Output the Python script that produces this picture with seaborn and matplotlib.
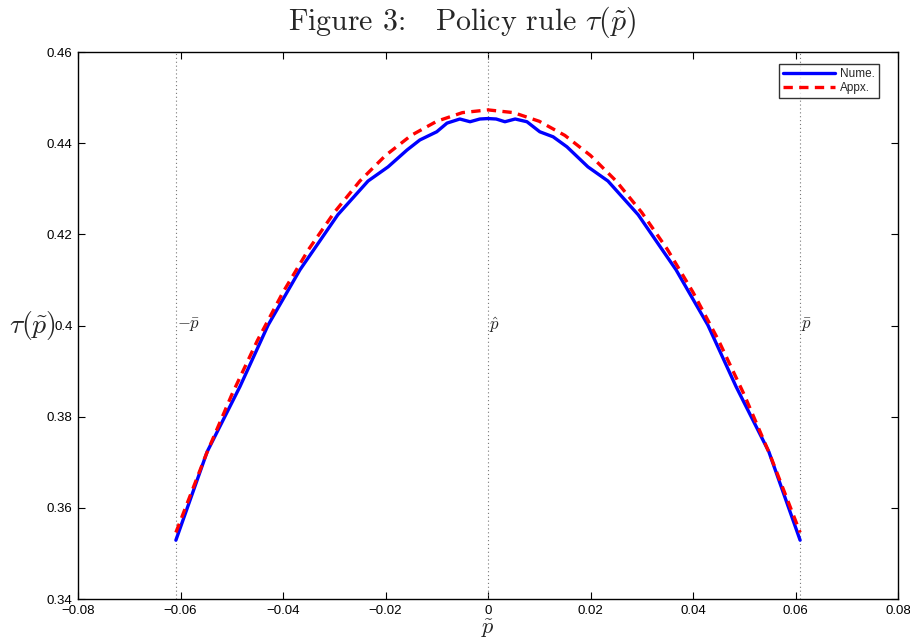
import matplotlib
matplotlib.use("Agg")
import matplotlib.pyplot as plt
import seaborn as sns
import numpy as np

# ---- data ----
p_num = [-0.0609, -0.0548, -0.0484, -0.0429, -0.0367, -0.0293, -0.0234, -0.0195,
         -0.0158, -0.0133, -0.0100, -0.0080, -0.0055, -0.0035, -0.0016, 0.0000,
         0.0016, 0.0033, 0.0053, 0.0076, 0.0101, 0.0127, 0.0154, 0.0195,
         0.0234, 0.0293, 0.0367, 0.0429, 0.0484, 0.0548, 0.0609]
tau_num = [0.3529, 0.3723, 0.3866, 0.4001, 0.4122, 0.4243, 0.4317, 0.4348,
           0.4385, 0.4407, 0.4425, 0.4444, 0.4453, 0.4447, 0.4453, 0.4454,
           0.4453, 0.4447, 0.4453, 0.4447, 0.4425, 0.4414, 0.4392, 0.4348,
           0.4317, 0.4243, 0.4122, 0.4001, 0.3866, 0.3723, 0.3529]

p_apx = [-0.0609, -0.055, -0.050, -0.045, -0.040, -0.035, -0.030, -0.025, -0.020,
         -0.015, -0.010, -0.005, 0.000, 0.005, 0.010, 0.015, 0.020, 0.025, 0.030,
         0.035, 0.040, 0.045, 0.050, 0.055, 0.0609]
tau_apx = [0.3546, 0.3717, 0.3848, 0.3967, 0.4073, 0.4167, 0.4248, 0.4317, 0.4373,
           0.4417, 0.4448, 0.4467, 0.4473, 0.4467, 0.4448, 0.4417, 0.4373, 0.4317,
           0.4248, 0.4167, 0.4073, 0.3967, 0.3848, 0.3717, 0.3546]

p_bar = 0.0608
vlines_x = [-p_bar, 0.0, p_bar]
vline_labels = [r"$-\bar{p}$", r"$\hat{p}$", r"$\bar{p}$"]

xticks = [-0.08, -0.06, -0.04, -0.02, 0.0, 0.02, 0.04, 0.06, 0.08]
xticklabels = ["\u22120.08", "\u22120.06", "\u22120.04", "\u22120.02", "0", "0.02", "0.04", "0.06", "0.08"]
yticks = [0.34, 0.36, 0.38, 0.40, 0.42, 0.44, 0.46]
yticklabels = ["0.34", "0.36", "0.38", "0.4", "0.42", "0.44", "0.46"]

# ---- style ----
sns.set_style("ticks")
plt.rcParams["font.family"] = ["Liberation Sans", "DejaVu Sans"]
plt.rcParams["mathtext.fontset"] = "cm"

fig = plt.figure(figsize=(9.1, 6.4), dpi=100)
ax = fig.add_axes([78 / 910, 41 / 640, 820 / 910, 547 / 640])

for xv in vlines_x:
    ax.axvline(xv, color="#777777", lw=0.8, ls=(0, (1, 2.5)), zorder=1)

sns.lineplot(x=p_num, y=tau_num, ax=ax, color="blue", lw=2.4, sort=False,
             estimator=None, label="Nume.")
sns.lineplot(x=p_apx, y=tau_apx, ax=ax, color="red", lw=2.4, sort=False,
             estimator=None, label="Appx.")
ax.lines[-1].set_dashes([2.8, 1.9])

for xv, lab in zip(vlines_x, vline_labels):
    ax.text(xv + 0.0002, 0.40, lab, fontsize=12, ha="left", va="center")

ax.set_xlim(-0.08, 0.08)
ax.set_ylim(0.34, 0.46)
ax.set_xticks(xticks)
ax.set_xticklabels(xticklabels)
ax.set_yticks(yticks)
ax.set_yticklabels(yticklabels)
ax.tick_params(direction="in", length=5, width=0.8, labelsize=9.5,
               top=True, right=True, colors="black")
ax.tick_params(axis="x", pad=4)
ax.tick_params(axis="y", pad=4)
for s in ax.spines.values():
    s.set_visible(True)
    s.set_linewidth(1.0)
    s.set_color("black")

ax.set_xlabel(r"$\tilde{p}$", fontsize=16, va="top")
ax.set_ylabel(r"$\tau(\tilde{p})$", fontsize=20, rotation=0, ha="center", va="center")
ax.yaxis.set_label_coords(-0.056, 0.50)
ax.xaxis.set_label_coords(0.5, -0.034)

leg = ax.legend(loc="upper right", fontsize=8.5, frameon=True, fancybox=False,
                handlelength=4.4, borderpad=0.35, labelspacing=0.15,
                handletextpad=0.4, borderaxespad=0.0,
                bbox_to_anchor=((879 - 78) / 820, (599 - 64) / 547))
leg.get_frame().set_edgecolor("black")
leg.get_frame().set_linewidth(1.0)

fig.text(462 / 910, 1 - 22 / 640,
         "Figure 3:   Policy rule $\\tau(\\tilde{p})$",
         family="cmr10", fontsize=21.5, ha="center", va="center")

fig.savefig("out.png", dpi=100, facecolor="white")
